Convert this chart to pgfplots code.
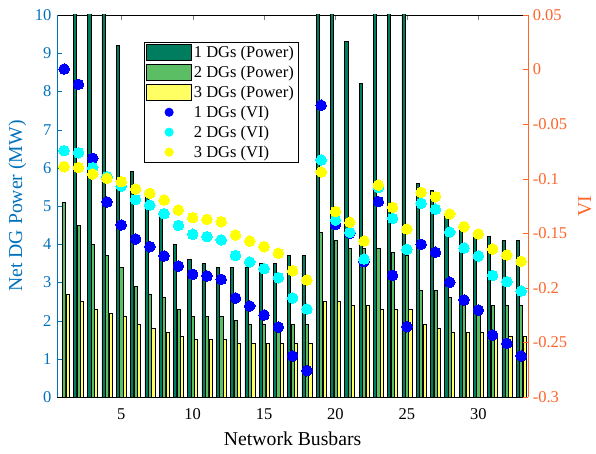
\documentclass[border=0pt]{standalone}
\usepackage{fontspec}
\setmainfont{Liberation Serif}
\usepackage{pgfplots}
\usepackage{pgfplotstable}
\pgfplotsset{compat=1.18}
\definecolor{dgone}{RGB}{0,125,95}
\definecolor{dgtwo}{RGB}{92,190,100}
\definecolor{dgthree}{RGB}{255,255,100}
\definecolor{lblue}{RGB}{0,114,189}
\definecolor{rorange}{RGB}{255,100,40}
\definecolor{cyanc}{RGB}{0,255,255}
\definecolor{yelc}{RGB}{255,255,0}
\pgfplotstableread{
x p1 p2 p3 v1 v2 v3
1 0 5.1 2.7 0.0005 -0.0743 -0.0890
2 12 4.5 2.5 -0.0135 -0.0762 -0.0896
3 12 4.0 2.3 -0.0813 -0.0899 -0.0957
4 12 3.7 2.2 -0.1213 -0.0981 -0.0996
5 9.2 3.4 2.1 -0.1424 -0.1067 -0.1027
6 5.9 2.9 1.9 -0.1552 -0.1189 -0.1094
7 5.4 2.7 1.8 -0.1623 -0.1241 -0.1134
8 4.7 2.6 1.7 -0.1708 -0.1320 -0.1195
9 4.0 2.3 1.6 -0.1800 -0.1427 -0.1287
10 3.6 2.1 1.5 -0.1876 -0.1509 -0.1357
11 3.5 2.1 1.5 -0.1891 -0.1531 -0.1372
12 3.4 2.1 1.5 -0.1922 -0.1561 -0.1394
13 3.4 2.0 1.4 -0.2093 -0.1705 -0.1516
14 3.4 1.9 1.4 -0.2166 -0.1763 -0.1571
15 3.5 1.9 1.4 -0.2249 -0.1824 -0.1623
16 3.5 1.9 1.4 -0.2359 -0.1907 -0.1683
17 3.7 1.9 1.4 -0.2624 -0.2093 -0.1843
18 3.7 1.9 1.4 -0.2759 -0.2194 -0.1928
19 12 4.3 2.5 -0.0327 -0.0828 -0.0938
20 12 4.1 2.5 -0.1418 -0.1378 -0.1302
21 9.3 3.9 2.4 -0.1500 -0.1491 -0.1399
22 8.2 3.9 2.4 -0.1760 -0.1736 -0.1571
23 12 3.9 2.3 -0.1210 -0.1080 -0.1058
24 12 3.8 2.3 -0.1885 -0.1363 -0.1262
25 12 3.7 2.3 -0.2356 -0.1647 -0.1461
26 5.6 2.8 1.9 -0.1601 -0.1225 -0.1125
27 5.4 2.8 1.8 -0.1674 -0.1280 -0.1165
28 4.8 2.6 1.7 -0.1949 -0.1488 -0.1323
29 4.4 2.4 1.7 -0.2111 -0.1635 -0.1440
30 4.3 2.4 1.7 -0.2203 -0.1708 -0.1506
31 4.2 2.4 1.6 -0.2432 -0.1885 -0.1644
32 4.1 2.4 1.6 -0.2508 -0.1943 -0.1699
33 4.1 2.4 1.6 -0.2624 -0.2029 -0.1757
}\datatab
\begin{document}
\begin{tikzpicture}
\pgfplotsset{
  common/.style={
    scale only axis, width=471.3pt, height=382pt,
    xmin=0.5, xmax=33.5, clip=true,
    tick align=inside, major tick length=5pt,
    /pgf/number format/assume math mode=true,
    tick label style={font=\fontsize{16.5}{19}\selectfont},
    label style={font=\fontsize{19.7}{23}\selectfont},
  }
}
\begin{axis}[common,
  ymin=0, ymax=10,
  axis y line*=left,
  xtick={5,10,15,20,25,30},
  ytick={0,1,...,10},
  xticklabel style={yshift=-8pt},
  yticklabel style={color=lblue, xshift=-2pt},
  y axis line style={draw=lblue},
  ytick style={draw=lblue},
  xlabel={Network Busbars},
  ylabel={Net DG Power (MW)},
  xlabel style={at={(axis description cs:0.5,-0.11)}, anchor=center},
  ylabel style={at={(axis description cs:-0.0838,0.5)}, anchor=center, color=lblue},
]
\addplot[ybar, bar width=0.22, bar shift=-0.24, fill=dgone, draw=black, line width=0.6pt] table[x=x, y=p1] {\datatab};
\addplot[ybar, bar width=0.22, bar shift=0, fill=dgtwo, draw=black, line width=0.6pt] table[x=x, y=p2] {\datatab};
\addplot[ybar, bar width=0.22, bar shift=0.24, fill=dgthree, draw=black, line width=0.6pt] table[x=x, y=p3] {\datatab};
\end{axis}
\begin{axis}[common,
  ymin=-0.3, ymax=0.05,
  axis x line=none,
  axis y line*=right,
  ytick={-0.3,-0.25,-0.2,-0.15,-0.1,-0.05,0,0.05},
  yticklabels={-0.3,-0.25,-0.2,-0.15,-0.1,-0.05,0,0.05},
  scaled y ticks=false,
  yticklabel style={color=rorange, xshift=1pt},
  y axis line style={draw=rorange},
  ytick style={draw=rorange},
  ylabel={VI},
  ylabel style={at={(axis description cs:1.12,0.5)}, anchor=center, color=rorange},
  legend style={at={(rel axis cs:0.1846,0.929)}, anchor=north west, draw=black, line width=0.6pt,
    font=\fontsize{16.5}{19.5}\selectfont, inner xsep=2pt, inner ysep=1.5pt, row sep=3pt},
  legend cell align=left,
]
\addlegendimage{legend image code/.code={\draw[fill=dgone, draw=black, line width=0.6pt] (0pt,-8pt) rectangle (45pt,8pt);}}
\addlegendentry{1 DGs (Power)}
\addlegendimage{legend image code/.code={\draw[fill=dgtwo, draw=black, line width=0.6pt] (0pt,-8pt) rectangle (45pt,8pt);}}
\addlegendentry{2 DGs (Power)}
\addlegendimage{legend image code/.code={\draw[fill=dgthree, draw=black, line width=0.6pt] (0pt,-8pt) rectangle (45pt,8pt);}}
\addlegendentry{3 DGs (Power)}
\addplot[only marks, mark=*, mark size=5.3pt, mark options={fill=blue, draw=blue, line width=0pt},
  legend image code/.code={\draw[mark repeat=2, mark phase=2, mark=*, mark size=4.2pt, mark options={fill=blue, draw=blue}] plot coordinates {(0pt,0pt) (22.5pt,0pt) (45pt,0pt)};}]
  table[x=x, y=v1] {\datatab};
\addlegendentry{1 DGs (VI)}
\addplot[only marks, mark=*, mark size=5.3pt, mark options={fill=cyanc, draw=cyanc, line width=0pt},
  legend image code/.code={\draw[mark repeat=2, mark phase=2, mark=*, mark size=4.2pt, mark options={fill=cyanc, draw=cyanc}] plot coordinates {(0pt,0pt) (22.5pt,0pt) (45pt,0pt)};}]
  table[x=x, y=v2] {\datatab};
\addlegendentry{2 DGs (VI)}
\addplot[only marks, mark=*, mark size=5.3pt, mark options={fill=yelc, draw=yelc, line width=0pt},
  legend image code/.code={\draw[mark repeat=2, mark phase=2, mark=*, mark size=4.2pt, mark options={fill=yelc, draw=yelc}] plot coordinates {(0pt,0pt) (22.5pt,0pt) (45pt,0pt)};}]
  table[x=x, y=v3] {\datatab};
\addlegendentry{3 DGs (VI)}
\end{axis}
\pgfresetboundingbox
\useasboundingbox (-57pt,-56pt) rectangle (539pt,397pt);
\end{tikzpicture}
\end{document}
